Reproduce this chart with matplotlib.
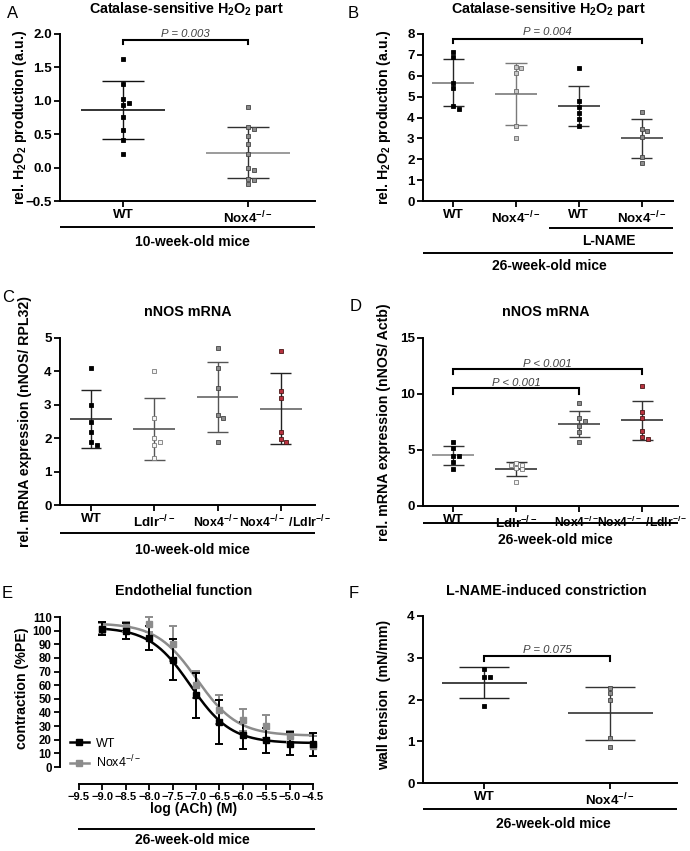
import numpy as np
import matplotlib
matplotlib.use('Agg')
import matplotlib.pyplot as plt
import matplotlib.transforms as mtrans
from matplotlib.lines import Line2D

plt.rcParams['font.family'] = ['Liberation Sans', 'DejaVu Sans']
plt.rcParams['font.weight'] = 'bold'
plt.rcParams['mathtext.fontset'] = 'custom'
plt.rcParams['mathtext.rm'] = 'Liberation Sans:bold'
plt.rcParams['mathtext.bf'] = 'Liberation Sans:bold'
plt.rcParams['mathtext.it'] = 'Liberation Sans:italic:bold'
plt.rcParams['mathtext.default'] = 'regular'
plt.rcParams['axes.unicode_minus'] = True

# ---------------- data ----------------
# Panel A
a_groups = ['WT', 'Nox4$^{-/-}$']
a_wt = [1.62, 1.25, 1.03, 0.94, 0.96, 0.76, 0.56, 0.41, 0.20]
a_nox4 = [0.905, 0.615, 0.58, 0.475, 0.355, 0.20, 0.0, -0.035, -0.175, -0.185, -0.245]
a_mean = [0.86, 0.225]
a_sd = [0.435, 0.385]
a_p = 'P = 0.003'

# Panel B
b_groups = ['WT', 'Nox4$^{-/-}$', 'WT', 'Nox4$^{-/-}$']
b_wt = [7.14, 6.88, 5.65, 5.41, 4.54, 4.43]
b_nox4 = [6.40, 6.37, 6.13, 5.25, 3.60, 3.04]
b_wt_lname = [6.37, 4.77, 4.48, 4.22, 3.93, 3.60]
b_nox4_lname = [4.26, 3.45, 3.35, 3.08, 2.11, 1.83]
b_mean = [5.67, 5.12, 4.565, 3.00]
b_sd = [1.135, 1.47, 0.965, 0.93]
b_p = 'P = 0.004'

# Panel C
c_groups = ['WT', 'Ldlr$^{-/-}$', 'Nox4$^{-/-}$', 'Nox4$^{-/-}$ /Ldlr$^{-/-}$']
c_wt = [4.09, 2.99, 2.50, 2.20, 1.88, 1.79]
c_ldlr = [4.00, 2.60, 2.00, 1.90, 1.80, 1.40]
c_nox4 = [4.70, 4.10, 3.49, 2.70, 2.59, 1.89]
c_nox4_ldlr = [4.60, 3.40, 3.19, 2.20, 1.99, 1.89]
c_mean = [2.575, 2.27, 3.245, 2.88]
c_sd = [0.865, 0.93, 1.045, 1.06]

# Panel D
d_groups = ['WT', 'Ldlr$^{-/-}$', 'Nox4$^{-/-}$', 'Nox4$^{-/-}$ /Ldlr$^{-/-}$']
d_wt = [5.75, 5.16, 4.50, 4.50, 3.96, 3.28]
d_ldlr = [3.82, 3.67, 3.67, 3.37, 3.28, 2.12]
d_nox4 = [9.19, 7.90, 7.63, 7.16, 6.59, 5.75]
d_nox4_ldlr = [10.67, 8.35, 7.90, 6.74, 6.17, 6.02]
d_mean = [4.53, 3.29, 7.345, 7.645]
d_sd = [0.86, 0.61, 1.175, 1.745]
d_p = ['P < 0.001', 'P < 0.001']

# Panel E
e_logach = [-9.0, -8.5, -8.0, -7.5, -7.0, -6.5, -6.0, -5.5, -5.0, -4.5]
e_wt_mean = [101.5, 99.8, 94.6, 78.7, 52.6, 33.0, 23.2, 19.6, 17.1, 16.6]
e_wt_sd = [4.7, 5.7, 9.0, 15.0, 16.5, 16.0, 10.0, 9.0, 8.5, 8.5]
e_nox4_mean = [101.5, 102.7, 104.6, 90.5, 60.4, 42.0, 34.2, 30.0, 22.7, 15.4]
e_nox4_sd = [4.0, 4.0, 5.5, 13.0, 10.0, 10.5, 8.0, 8.5, 4.0, 7.5]
# fitted sigmoid parameters: top, bottom, logEC50, hill slope
e_wt_fit = [102.5, 17.5, -7.12, 1.0]
e_nox4_fit = [105.5, 23.0, -6.98, 1.0]
e_xticks = [-9.5, -9.0, -8.5, -8.0, -7.5, -7.0, -6.5, -6.0, -5.5, -5.0, -4.5]
e_yticks = [0, 10, 20, 30, 40, 50, 60, 70, 80, 90, 100, 110]

# Panel F
f_groups = ['WT', 'Nox4$^{-/-}$']
f_wt = [2.73, 2.53, 2.53, 1.85]
f_nox4 = [2.27, 2.16, 2.00, 1.07, 0.87]
f_mean = [2.405, 1.665]
f_sd = [0.375, 0.645]
f_p = 'P = 0.075'

# ---------------- layout helpers ----------------
W, H = 690, 851
fig = plt.figure(figsize=(W / 100, H / 100), dpi=100)

TICK_FS = 9.6
LAB_FS = 10.2
GRP_FS = 10.0
TITLE_FS = 10.3
P_FS = 8.2


def fx(x):
    return x / W


def fy(y):
    return 1 - y / H


def add_ax(l, t, r, b):
    return fig.add_axes([fx(l), fy(b), (r - l) / W, (b - t) / H])


def hline_fig(x0, x1, y, lw=1.4):
    fig.add_artist(Line2D([fx(x0), fx(x1)], [fy(y), fy(y)], transform=fig.transFigure,
                          color='black', lw=lw, solid_capstyle='butt'))


def text_fig(x, y, s, size=GRP_FS, **kw):
    fig.text(fx(x), fy(y), s, fontsize=size, **kw)


def style_ax(ax, labelsize=TICK_FS):
    for s in ['top', 'right']:
        ax.spines[s].set_visible(False)
    for s in ['left', 'bottom']:
        ax.spines[s].set_linewidth(1.4)
    ax.tick_params(direction='out', length=4, width=1.3, labelsize=labelsize, pad=2,
                   colors='black')


def shift_label(ax, idx, dx_px, size=None):
    lab = ax.get_xticklabels()[idx]
    lab.set_transform(lab.get_transform() +
                      mtrans.ScaledTranslation(dx_px / 100, 0, fig.dpi_scale_trans))
    if size is not None:
        lab.set_fontsize(size)


# marker styles
ST_BLACK = dict(mfc='black', mec='black')
ST_GRAY = dict(mfc='#8c8c8c', mec='#454545')
ST_LGRAY = dict(mfc='#c9c9c9', mec='#6a6a6a')
ST_OPEN = dict(mfc='#f4f4f4', mec='#7a7a7a')
ST_RED = dict(mfc='#b8323f', mec='#4a1818')

MS_PX = 4.6


def swarm_x(ax, pos, vals):
    bb = ax.get_position()
    w_px, h_px = bb.width * W, bb.height * H
    xl, yl = ax.get_xlim(), ax.get_ylim()
    ppx = w_px / (xl[1] - xl[0])
    ppy = h_px / (yl[1] - yl[0])
    placed = []
    xs = []
    step = MS_PX * 0.6
    for v in vals:
        for k in [0, 1, -1, 2, -2, 3, -3]:
            dx = k * step
            if all(not (abs(dx - px) < MS_PX * 0.95 and abs(v - pv) * ppy < MS_PX * 0.85)
                   for px, pv in placed):
                break
        placed.append((dx, v))
        xs.append(pos + dx / ppx)
    return xs


def scatter_group(ax, pos, vals, mean, sd, mstyle, mean_col, sd_col, mhw, chw):
    ax.hlines(mean, pos - mhw, pos + mhw, color=mean_col, lw=1.2, zorder=2)
    ax.vlines(pos, mean - sd, mean + sd, color=sd_col, lw=1.0, zorder=2)
    ax.hlines([mean - sd, mean + sd], pos - chw, pos + chw, color=sd_col, lw=1.0, zorder=2)
    xs = swarm_x(ax, pos, vals)
    ax.plot(xs, vals, ls='none', marker='s', ms=MS_PX * 0.72, mew=0.6, zorder=3, **mstyle)


def bracket(ax, x0, x1, ybar, ydrop, ytext, label):
    ax.plot([x0, x0, x1, x1], [ydrop, ybar, ybar, ydrop], color='black', lw=1.5,
            clip_on=False, solid_joinstyle='miter')
    ax.text((x0 + x1) / 2, ytext, label, ha='center', va='center', fontsize=P_FS,
            fontstyle='italic', fontweight='normal', color='#404040')


def ylabel_fig(x, y, s, size=LAB_FS):
    fig.text(fx(x), fy(y), s, rotation=90, ha='center', va='center', fontsize=size)


def panel_letter(x, y, s):
    fig.text(fx(x), fy(y), s, fontsize=12, fontweight='normal', va='baseline', ha='left')


def title(x, y, s):
    fig.text(fx(x), fy(y), s, fontsize=TITLE_FS, ha='center', va='baseline')


# ---------------- Panel A ----------------
axA = add_ax(60, 34, 315, 201)
axA.set_xlim(-0.504, 1.536)
axA.set_ylim(-0.5, 2.0)
style_ax(axA)
axA.set_xticks([0, 1])
axA.set_xticklabels(a_groups)
axA.set_yticks([-0.5, 0.0, 0.5, 1.0, 1.5, 2.0])
axA.set_yticklabels(['\u22120.5', '0.0', '0.5', '1.0', '1.5', '2.0'])
scatter_group(axA, 0, a_wt, a_mean[0], a_sd[0], ST_BLACK, '#111111', '#111111', 0.336, 0.168)
scatter_group(axA, 1, a_nox4, a_mean[1], a_sd[1], ST_GRAY, '#8a8a8a', '#303030', 0.336, 0.168)
bracket(axA, 0, 1, 1.915, 1.855, 2.0, a_p)
panel_letter(7, 17.5, 'A')
title(186, 13.5, 'Catalase-sensitive H$_2$O$_2$ part')
ylabel_fig(20, 117.5, 'rel. H$_2$O$_2$ production (a.u.)')
hline_fig(60, 315, 227)
text_fig(192, 245.5, '10-week-old mice', ha='center', va='baseline')

# ---------------- Panel B ----------------
axB = add_ax(423, 34, 673, 201)
axB.set_xlim(-0.48, 3.5)
axB.set_ylim(0, 8)
style_ax(axB)
axB.set_xticks([0, 1, 2, 3])
axB.set_xticklabels(b_groups)
axB.set_yticks(range(0, 9))
b_sets = [b_wt, b_nox4, b_wt_lname, b_nox4_lname]
b_styles = [ST_BLACK, ST_LGRAY, ST_BLACK, ST_GRAY]
b_cols = [('#7a7a7a', '#252525'), ('#7a7a7a', '#7a7a7a'), ('#333333', '#333333'),
          ('#444444', '#333333')]
for i in range(4):
    scatter_group(axB, i, b_sets[i], b_mean[i], b_sd[i], b_styles[i], b_cols[i][0],
                  b_cols[i][1], 0.335, 0.168)
bracket(axB, 0, 3, 7.76, 7.57, 8.09, b_p)
panel_letter(348, 18.5, 'B')
title(548, 13.5, 'Catalase-sensitive H$_2$O$_2$ part')
ylabel_fig(384, 117.5, 'rel. H$_2$O$_2$ production (a.u.)')
hline_fig(549, 673, 228)
text_fig(609, 245, 'L-NAME', ha='center', va='baseline')
hline_fig(423, 673, 253)
text_fig(549, 270.5, '26-week-old mice', ha='center', va='baseline')

# ---------------- Panel C ----------------
axC = add_ax(60, 338, 315, 505)
axC.set_xlim(-0.49, 3.54)
axC.set_ylim(0, 5)
style_ax(axC)
axC.set_xticks([0, 1, 2, 3])
axC.set_xticklabels(c_groups)
axC.set_yticks(range(0, 6))
shift_label(axC, 2, -2, 8.9)
shift_label(axC, 3, 4, 8.9)
c_sets = [c_wt, c_ldlr, c_nox4, c_nox4_ldlr]
c_styles = [ST_BLACK, ST_OPEN, ST_GRAY, ST_RED]
c_cols = [('#333333', '#222222'), ('#555555', '#555555'), ('#666666', '#555555'),
          ('#666666', '#222222')]
for i in range(4):
    scatter_group(axC, i, c_sets[i], c_mean[i], c_sd[i], c_styles[i], c_cols[i][0],
                  c_cols[i][1], 0.33, 0.165)
panel_letter(2, 302, 'C')
title(188, 316.5, 'nNOS mRNA')
ylabel_fig(25, 421.5, 'rel. mRNA expression (nNOS/ RPL32)')
hline_fig(60, 315, 533)
text_fig(192, 553.5, '10-week-old mice', ha='center', va='baseline')

# ---------------- Panel D ----------------
axD = add_ax(423, 338, 678, 506)
axD.set_xlim(-0.48, 3.57)
axD.set_ylim(0, 15)
style_ax(axD)
axD.set_xticks([0, 1, 2, 3])
axD.set_xticklabels(d_groups)
axD.set_yticks([0, 5, 10, 15])
shift_label(axD, 2, -3, 8.7)
shift_label(axD, 3, 0, 8.7)
d_sets = [d_wt, d_ldlr, d_nox4, d_nox4_ldlr]
d_styles = [ST_BLACK, ST_OPEN, ST_GRAY, ST_RED]
d_cols = [('#8a8a8a', '#333333'), ('#333333', '#333333'), ('#444444', '#444444'),
          ('#333333', '#333333')]
for i in range(4):
    scatter_group(axD, i, d_sets[i], d_mean[i], d_sd[i], d_styles[i], d_cols[i][0],
                  d_cols[i][1], 0.335, 0.168)
bracket(axD, 0, 3, 12.23, 11.8, 12.7, d_p[0])
bracket(axD, 0, 2, 10.53, 10.0, 10.97, d_p[1])
panel_letter(350, 311, 'D')
title(546, 316.5, 'nNOS mRNA')
ylabel_fig(384, 422, 'rel. mRNA expression (nNOS/ Actb)')
hline_fig(423, 678, 523)
text_fig(555, 543.5, '26-week-old mice', ha='center', va='baseline')

# ---------------- Panel E ----------------
axE = add_ax(60, 617, 315, 767)
axE.set_xlim(-9.906, -4.457)
axE.set_ylim(0, 110)
style_ax(axE, labelsize=8.3)
axE.spines['bottom'].set_position(('outward', 12.2))
axE.spines['bottom'].set_bounds(-9.5, -4.5)
axE.set_xticks(e_xticks)
axE.set_xticklabels(['\u2212%.1f' % abs(v) for v in e_xticks])
axE.set_yticks(e_yticks)
axE.tick_params(axis='x', pad=1.5, labelsize=8.0)

xs_fit = np.linspace(-9.0, -4.5, 300)


def sigmoid(x, p):
    top, bottom, logec50, hill = p
    return bottom + (top - bottom) / (1 + 10 ** ((x - logec50) * hill))


for mean, sd, fitp, col in [(e_nox4_mean, e_nox4_sd, e_nox4_fit, '#8c8c8c'),
                            (e_wt_mean, e_wt_sd, e_wt_fit, 'black')]:
    axE.errorbar(e_logach, mean, yerr=sd, fmt='none', ecolor=col, elinewidth=1.4,
                 capsize=3, capthick=1.4, zorder=3, clip_on=False)
    axE.plot(xs_fit, sigmoid(xs_fit, fitp), color=col, lw=1.8, zorder=2)
    axE.plot(e_logach, mean, ls='none', marker='s', ms=3.8, mfc=col, mec=col, zorder=4,
             clip_on=False)

leg_handles = [Line2D([], [], color='black', lw=1.8, marker='s', ms=3.8),
               Line2D([], [], color='#8c8c8c', lw=1.8, marker='s', ms=3.8)]
leg = axE.legend(leg_handles, ['WT', 'Nox4$^{-/-}$'], loc='lower left',
                 bbox_to_anchor=((70 - 60) / 255, -0.02), frameon=False,
                 prop={'size': 9, 'weight': 'normal'}, handlelength=1.5,
                 handletextpad=0.6, labelspacing=0.3, borderpad=0, borderaxespad=0)
panel_letter(2, 598.5, 'E')
title(184, 595, 'Endothelial function')
ylabel_fig(22, 688, 'contraction (%PE)')
text_fig(194, 813, 'log (ACh) (M)', ha='center', va='baseline')
hline_fig(78, 315, 829)
text_fig(192, 843.5, '26-week-old mice', ha='center', va='baseline')

# ---------------- Panel F ----------------
axF = add_ax(423, 616, 677, 783)
axF.set_xlim(-0.484, 1.53)
axF.set_ylim(0, 4)
style_ax(axF)
axF.set_xticks([0, 1])
axF.set_xticklabels(f_groups)
axF.set_yticks(range(0, 5))
scatter_group(axF, 0, f_wt, f_mean[0], f_sd[0], ST_BLACK, '#222222', '#222222', 0.337, 0.2)
scatter_group(axF, 1, f_nox4, f_mean[1], f_sd[1], ST_GRAY, '#333333', '#333333', 0.337, 0.2)
bracket(axF, 0, 1, 3.03, 2.93, 3.19, f_p)
panel_letter(349, 598.5, 'F')
title(546, 595, 'L-NAME-induced constriction')
ylabel_fig(384, 695, 'wall tension  (mN/mm)')
hline_fig(423, 677, 809)
text_fig(553, 828.5, '26-week-old mice', ha='center', va='baseline')

fig.savefig('out.png', dpi=100)
